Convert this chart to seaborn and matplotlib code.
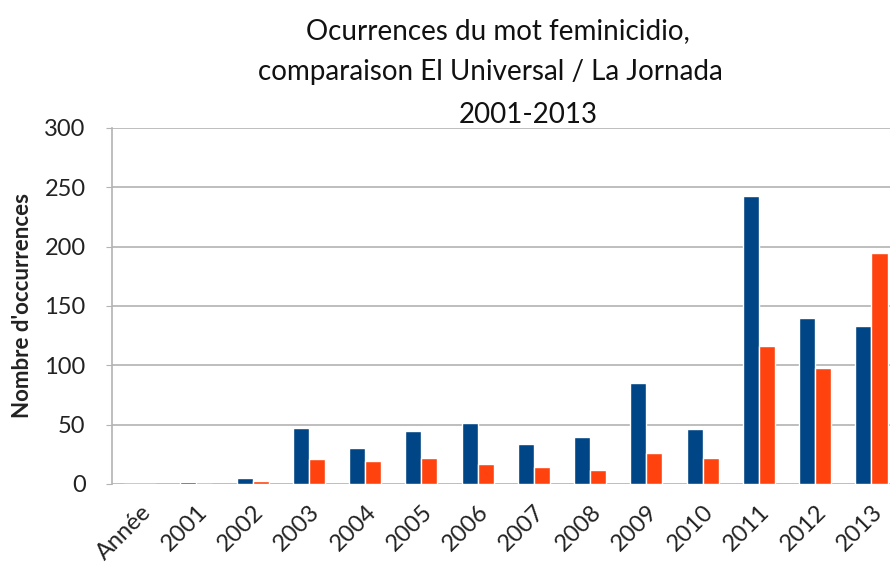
import pandas as pd
import numpy as np
import matplotlib
matplotlib.use("Agg")
import matplotlib.pyplot as plt
import seaborn as sns

# Data
categories = ["Année", "2001", "2002", "2003", "2004", "2005", "2006",
              "2007", "2008", "2009", "2010", "2011", "2012", "2013"]
el_universal = [0, 1.5, 5, 47, 30, 45, 51, 34, 40, 85, 46, 243, 140, 133]
la_jornada = [0, 0, 2.5, 21, 19, 22, 17, 14, 12, 26, 22, 116, 98, 195]
series_names = ["El Universal", "La Jornada"]
colors = ["#004586", "#ff420e"]

df = pd.DataFrame({
    "annee": categories * 2,
    "journal": [series_names[0]] * len(categories) + [series_names[1]] * len(categories),
    "occurrences": el_universal + la_jornada,
})

sns.set_style("white")
plt.rcParams['font.family'] = ['Lato', 'DejaVu Sans']

fig = plt.figure(figsize=(8.9, 5.66), dpi=100)
ax = fig.add_axes([0.1258, 0.1449, 0.885, 0.629])

sns.barplot(data=df, x="annee", y="occurrences", hue="journal",
            order=categories, hue_order=series_names, palette=colors,
            width=0.57, saturation=1, legend=False, ax=ax)

ax.set_xlim(-0.5, 13.5)
ax.set_ylim(0, 300)
ax.set_yticks(np.arange(0, 301, 50))
ax.yaxis.grid(True, color="#b3b3b3", linewidth=1.2)
ax.set_axisbelow(True)

for s in ["top", "right", "bottom"]:
    ax.spines[s].set_visible(False)
ax.spines["left"].set_color("#b3b3b3")
ax.spines["left"].set_linewidth(1.2)

ax.tick_params(axis="y", which="both", left=True, length=4, color="#b3b3b3",
               labelsize=17, labelcolor="#222222", pad=15)
ax.tick_params(axis="x", bottom=False, labelsize=17, labelcolor="#222222", pad=9)
plt.setp(ax.get_xticklabels(), rotation=45, ha="right", rotation_mode="anchor")

ax.set_xlabel("")
ax.set_ylabel("Nombre d'occurrences", fontsize=16, fontweight="bold",
              color="#222222", labelpad=8)

fig.text(0.56, 0.945, "Ocurrences du mot feminicidio,", ha="center", va="center",
         fontsize=20, color="#111111")
fig.text(0.551, 0.872, "comparaison El Universal / La Jornada", ha="center",
         va="center", fontsize=20, color="#111111")
fig.text(0.593, 0.797, "2001-2013", ha="center", va="center",
         fontsize=20, color="#111111")

fig.savefig("out.png", dpi=100)
